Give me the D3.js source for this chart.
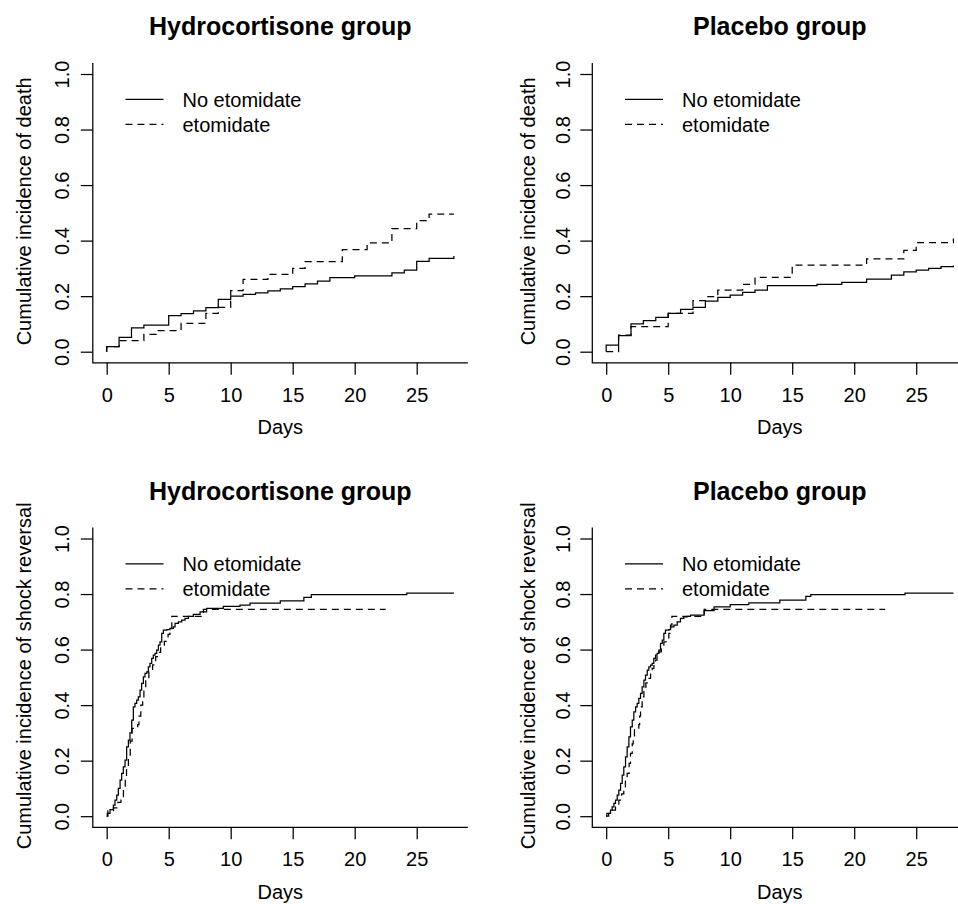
<!DOCTYPE html>
<html>
<head>
<meta charset="utf-8">
<script src="https://cdn.jsdelivr.net/npm/d3@7"></script>
<style>
  html, body { margin: 0; padding: 0; background: #fff; }
  svg { display: block; font-family: "Liberation Sans", Arial, Helvetica, sans-serif; }
</style>
</head>
<body>
<svg id="chart" width="958" height="904"></svg>
<script>
// ---------------- data ----------------
const xTicks = [0, 5, 10, 15, 20, 25];
const yTicks = [0, 0.2, 0.4, 0.6, 0.8, 1.0];
const groupTitles = ["Hydrocortisone group", "Placebo group"];
const yLabels = ["Cumulative incidence of death", "Cumulative incidence of shock reversal"];
const xLabel = "Days";
const legendLabels = ["No etomidate", "etomidate"];

// Hydrocortisone group, death  [day, cumulative incidence]
const hcDeathNoEto = [[0,0],[0,0.018],[1,0.052],[2,0.086],[3,0.096],[5,0.13],[6,0.137],[7,0.147],[8,0.159],[9,0.188],[10,0.2],[11,0.206],[12,0.212],[13,0.219],[14,0.226],[15,0.234],[16,0.244],[17,0.254],[18,0.267],[20,0.273],[23,0.284],[24,0.294],[25,0.325],[26,0.336],[28,0.345]];
const hcDeathEto = [[0,0],[0,0.018],[1,0.04],[3,0.062],[4,0.076],[6,0.102],[8,0.138],[9,0.16],[10,0.22],[11,0.26],[13,0.278],[15,0.3],[16,0.324],[19,0.368],[21,0.392],[23,0.443],[25,0.472],[26,0.495],[28,0.495]];

// Placebo group, death
const pbDeathNoEto = [[0,0],[0,0.024],[1,0.058],[2,0.1],[3,0.112],[4,0.124],[5,0.138],[6,0.152],[7,0.16],[8,0.182],[9,0.196],[10,0.204],[11,0.214],[12,0.222],[13,0.238],[17,0.242],[19,0.25],[21,0.261],[23,0.276],[24,0.287],[25,0.294],[26,0.3],[27,0.306],[28,0.31]];
const pbDeathEto = [[0,0],[1,0.06],[2,0.09],[5,0.138],[7,0.184],[8,0.198],[9,0.222],[11,0.242],[12,0.268],[15,0.312],[21,0.334],[24,0.365],[25,0.393],[28,0.408]];

// Hydrocortisone group, shock reversal
const hcShockNoEto = [[0,0],[0.05,0.01],[0.27,0.024],[0.54,0.04],[0.67,0.058],[0.81,0.076],[0.94,0.1],[1.08,0.13],[1.21,0.154],[1.34,0.178],[1.48,0.202],[1.61,0.25],[1.75,0.274],[1.88,0.3],[2.02,0.346],[2.15,0.394],[2.28,0.406],[2.42,0.418],[2.55,0.43],[2.69,0.454],[2.82,0.478],[2.96,0.502],[3.09,0.514],[3.23,0.52],[3.36,0.538],[3.49,0.55],[3.63,0.568],[3.76,0.58],[3.9,0.586],[4.03,0.598],[4.17,0.616],[4.3,0.628],[4.44,0.658],[4.57,0.67],[4.84,0.672],[5.1,0.676],[5.38,0.682],[5.51,0.694],[5.78,0.7],[6.05,0.706],[6.32,0.712],[6.59,0.72],[6.99,0.727],[7.53,0.736],[8.06,0.748],[9.4,0.756],[10.75,0.76],[11.56,0.767],[14.0,0.775],[15.9,0.788],[16.5,0.798],[24.2,0.803],[28,0.803]];
const hcShockEto = [[0,0],[0.1,0.02],[0.55,0.03],[0.9,0.05],[1.15,0.07],[1.35,0.1],[1.5,0.14],[1.6,0.18],[1.75,0.22],[1.9,0.27],[2.05,0.316],[2.5,0.33],[2.6,0.36],[2.75,0.4],[2.9,0.43],[3.0,0.46],[3.15,0.49],[3.4,0.52],[3.7,0.545],[3.95,0.575],[4.1,0.59],[4.35,0.61],[4.65,0.63],[4.95,0.655],[5.1,0.67],[5.25,0.72],[7.7,0.723],[7.8,0.745],[22.5,0.745]];

// Placebo group, shock reversal
const pbShockNoEto = [[0,0],[0.05,0.01],[0.35,0.022],[0.48,0.034],[0.62,0.046],[0.75,0.058],[0.89,0.076],[1.02,0.094],[1.16,0.118],[1.29,0.148],[1.42,0.178],[1.56,0.214],[1.69,0.25],[1.83,0.286],[1.96,0.322],[2.1,0.346],[2.23,0.376],[2.37,0.394],[2.5,0.406],[2.63,0.424],[2.77,0.442],[2.9,0.466],[3.04,0.49],[3.17,0.508],[3.31,0.526],[3.44,0.538],[3.58,0.544],[3.71,0.55],[3.84,0.568],[3.98,0.58],[4.11,0.586],[4.25,0.598],[4.38,0.622],[4.52,0.634],[4.65,0.658],[4.78,0.67],[5.05,0.672],[5.19,0.682],[5.46,0.688],[5.73,0.7],[5.99,0.712],[6.26,0.718],[6.53,0.72],[6.8,0.724],[7.9,0.74],[8.7,0.754],[10,0.762],[11.5,0.768],[14.0,0.778],[16.1,0.792],[16.5,0.798],[24.1,0.803],[28,0.803]];
const pbShockEto = [[0,0],[0.2,0.01],[0.48,0.022],[0.75,0.034],[1.02,0.058],[1.25,0.08],[1.42,0.106],[1.55,0.13],[1.69,0.154],[1.85,0.19],[1.96,0.226],[2.1,0.26],[2.18,0.286],[2.28,0.312],[2.63,0.33],[2.7,0.36],[2.77,0.394],[2.9,0.43],[3.04,0.46],[3.2,0.48],[3.31,0.496],[3.58,0.514],[3.71,0.532],[3.85,0.55],[3.98,0.562],[4.1,0.575],[4.25,0.592],[4.45,0.61],[4.65,0.628],[5.05,0.658],[5.19,0.688],[5.3,0.72],[7.8,0.723],[7.9,0.745],[22.5,0.745]];

// ---------------- layout ----------------
const panels = [
  { ox: 0,     oy: 0,     title: groupTitles[0], ylab: yLabels[0], ylabX: 30.5,  tickX: 68.5, series: [hcDeathNoEto, hcDeathEto] },
  { ox: 499.5, oy: 0,     title: groupTitles[1], ylab: yLabels[0], ylabX: 35.5,  tickX: 70.5, series: [pbDeathNoEto, pbDeathEto] },
  { ox: 0,     oy: 464.5, title: groupTitles[0], ylab: yLabels[1], ylabX: 30.5,  tickX: 68.5, series: [hcShockNoEto, hcShockEto] },
  { ox: 499.5, oy: 464.5, title: groupTitles[1], ylab: yLabels[1], ylabX: 35.5,  tickX: 70.5, series: [pbShockNoEto, pbShockEto] }
];

const plotL = 92.8, plotR = 467.8, plotT = 62.9, plotB = 362.8;
const x = d3.scaleLinear().domain([-1.12, 29.12]).range([plotL, plotR]);
const y = d3.scaleLinear().domain([-0.04, 1.04]).range([plotB, plotT]);
const dashes = [null, "7,5"];
const lw = 1.25;

const svg = d3.select("#chart");
const line = d3.line().x(d => x(d[0])).y(d => y(d[1])).curve(d3.curveStepAfter);

panels.forEach(p => {
  const g = svg.append("g").attr("transform", `translate(${p.ox},${p.oy})`);

  // L-shaped box
  g.append("path")
    .attr("d", `M${plotL},${plotT}V${plotB}H${plotR}`)
    .attr("fill", "none").attr("stroke", "#000").attr("stroke-width", lw);

  // y axis
  const ya = g.append("g").attr("transform", `translate(${plotL},0)`)
    .call(d3.axisLeft(y).tickValues(yTicks).tickFormat(d3.format(".1f")).tickSize(12).tickSizeOuter(0));
  ya.select(".domain").remove();
  ya.selectAll(".tick line").attr("stroke", "#000").attr("stroke-width", lw);
  ya.selectAll(".tick text")
    .attr("x", null).attr("dy", null)
    .attr("transform", `translate(${p.tickX - plotL},0) rotate(-90)`)
    .attr("text-anchor", "middle")
    .attr("font-size", 20).attr("fill", "#000")
    .attr("font-family", "Liberation Sans, Arial, Helvetica, sans-serif");

  // x axis
  const xa = g.append("g").attr("transform", `translate(0,${plotB})`)
    .call(d3.axisBottom(x).tickValues(xTicks).tickFormat(d3.format("d")).tickSize(12).tickSizeOuter(0));
  xa.select(".domain").remove();
  xa.selectAll(".tick line").attr("stroke", "#000").attr("stroke-width", lw);
  xa.selectAll(".tick text")
    .attr("y", 38.9).attr("dy", null)
    .attr("font-size", 20).attr("fill", "#000")
    .attr("font-family", "Liberation Sans, Arial, Helvetica, sans-serif");

  const cx = (plotL + plotR) / 2;
  const cy = (plotT + plotB) / 2;

  // axis titles
  g.append("text").attr("x", cx).attr("y", 434.3)
    .attr("text-anchor", "middle").attr("font-size", 20).text(xLabel);
  g.append("text")
    .attr("transform", `translate(${p.ylabX},${cy - 1.5}) rotate(-90)`)
    .attr("text-anchor", "middle").attr("font-size", 20).text(p.ylab);

  // main title
  g.append("text").attr("x", cx).attr("y", 35)
    .attr("text-anchor", "middle").attr("font-size", 25).attr("font-weight", "bold")
    .text(p.title);

  // curves
  p.series.forEach((s, i) => {
    g.append("path").datum(s)
      .attr("d", line)
      .attr("fill", "none").attr("stroke", "#000").attr("stroke-width", lw)
      .attr("stroke-dasharray", dashes[i]);
  });

  // legend
  legendLabels.forEach((lab, i) => {
    const ly = 99.3 + i * 25;
    g.append("line").attr("x1", 125.5).attr("x2", 163.5).attr("y1", ly).attr("y2", ly)
      .attr("stroke", "#000").attr("stroke-width", lw).attr("stroke-dasharray", dashes[i]);
    g.append("text").attr("x", 182.5).attr("y", ly + 7.2)
      .attr("font-size", 20).text(lab);
  });
});
</script>
</body>
</html>
